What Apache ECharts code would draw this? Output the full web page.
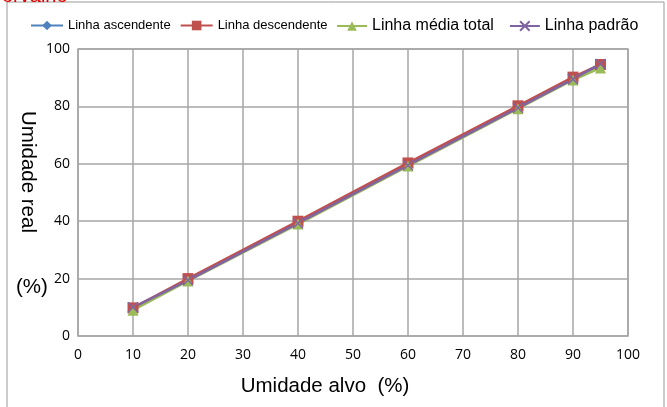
<!DOCTYPE html>
<html>
<head>
<meta charset="utf-8">
<script src="https://cdn.jsdelivr.net/npm/echarts@6/dist/echarts.min.js"></script>
<style>html,body{margin:0;padding:0;background:#fff;}#c{width:667px;height:407px;}</style>
</head>
<body>
<div id="c"></div>
<script>
var xValues = [10, 20, 40, 60, 80, 90, 95];
var ascendente = [9.6, 19.6, 39.6, 59.8, 79.8, 89.8, 94.4];
var descendente = [9.8, 20.0, 40.0, 60.3, 80.2, 90.2, 94.6];
var mediaTotal = [9.0, 19.2, 39.0, 59.2, 79.2, 89.2, 93.4];
var padrao = [10.0, 19.4, 39.3, 59.5, 79.5, 89.5, 94.8];
var seriesNames = ['Linha ascendente', 'Linha descendente', 'Linha média total', 'Linha padrão'];
var xTicks = {min: 0, max: 100, interval: 10};
var yTicks = {min: 0, max: 100, interval: 20};

function pairs(ys) { return xValues.map(function (x, i) { return [x, ys[i]]; }); }

var crossPath = 'path://M0,0 L10,10 M10,0 L0,10';
var font = '"Liberation Sans", Arial, sans-serif';
var tickFont = '"Open Sans", "Noto Sans", sans-serif';

var chart = echarts.init(document.getElementById('c'), null, {renderer: 'canvas'});
chart.setOption({
  animation: false,
  backgroundColor: '#fff',
  grid: {left: 78, right: 39, top: 49, bottom: 71, show: true, borderColor: '#a6a6a6', borderWidth: 1.5},
  legend: [{
    data: [seriesNames[0], seriesNames[1]],
    left: 25, top: 14, itemWidth: 32, itemHeight: 12, itemGap: 9,
    textStyle: {fontFamily: font, fontSize: 13, color: '#000'}
  }, {
    data: [seriesNames[2], seriesNames[3]],
    left: 331, top: 13, itemWidth: 30, itemHeight: 12, itemGap: 15,
    textStyle: {fontFamily: font, fontSize: 16, color: '#000'}
  }],
  xAxis: {
    type: 'value', min: xTicks.min, max: xTicks.max, interval: xTicks.interval,
    axisLine: {show: false}, axisTick: {show: false},
    axisLabel: {fontFamily: tickFont, fontSize: 14, color: '#000', margin: 12},
    splitLine: {show: true, lineStyle: {color: '#a6a6a6', width: 1.5}}
  },
  yAxis: {
    type: 'value', min: yTicks.min, max: yTicks.max, interval: yTicks.interval,
    axisLine: {show: false}, axisTick: {show: false},
    axisLabel: {fontFamily: tickFont, fontSize: 14, color: '#000', margin: 8},
    splitLine: {show: true, lineStyle: {color: '#a6a6a6', width: 1.5}}
  },
  graphic: [
    {type: 'rect', shape: {x: 7, y: 2, width: 657, height: 430}, style: {fill: 'none', stroke: '#999', lineWidth: 1}, silent: true},
    {type: 'text', left: 2, top: -14, style: {text: 'orvalho', fontFamily: font, fontSize: 20, fill: '#e00000'}},
    {type: 'text', x: 28, y: 172, rotation: -Math.PI / 2, style: {text: 'Umidade real', fontFamily: font, fontSize: 20.5, fill: '#000', textAlign: 'center', textVerticalAlign: 'middle'}},
    {type: 'text', left: 16, top: 277, style: {text: '(%)', fontFamily: font, fontSize: 20.5, fill: '#000'}},
    {type: 'text', x: 325, y: 386, style: {text: 'Umidade alvo  (%)', fontFamily: font, fontSize: 20.5, fill: '#000', textAlign: 'center', textVerticalAlign: 'middle'}}
  ],
  series: [
    {name: seriesNames[0], type: 'line', data: pairs(ascendente), symbol: 'diamond', symbolSize: 10,
      itemStyle: {color: '#4F81BD'}, lineStyle: {color: '#4F81BD', width: 2.5}},
    {name: seriesNames[1], type: 'line', data: pairs(descendente), symbol: 'rect', symbolSize: 11,
      itemStyle: {color: '#C0504D'}, lineStyle: {color: '#C0504D', width: 2.5}},
    {name: seriesNames[2], type: 'line', data: pairs(mediaTotal), symbol: 'triangle', symbolSize: 11,
      itemStyle: {color: '#9BBB59'}, lineStyle: {color: '#9BBB59', width: 2.5}},
    {name: seriesNames[3], type: 'line', data: pairs(padrao), symbol: crossPath, symbolSize: 10,
      itemStyle: {color: '#8064A2', borderColor: '#8064A2', borderWidth: 1.5}, lineStyle: {color: '#8064A2', width: 2.5}}
  ]
});
</script>
</body>
</html>
